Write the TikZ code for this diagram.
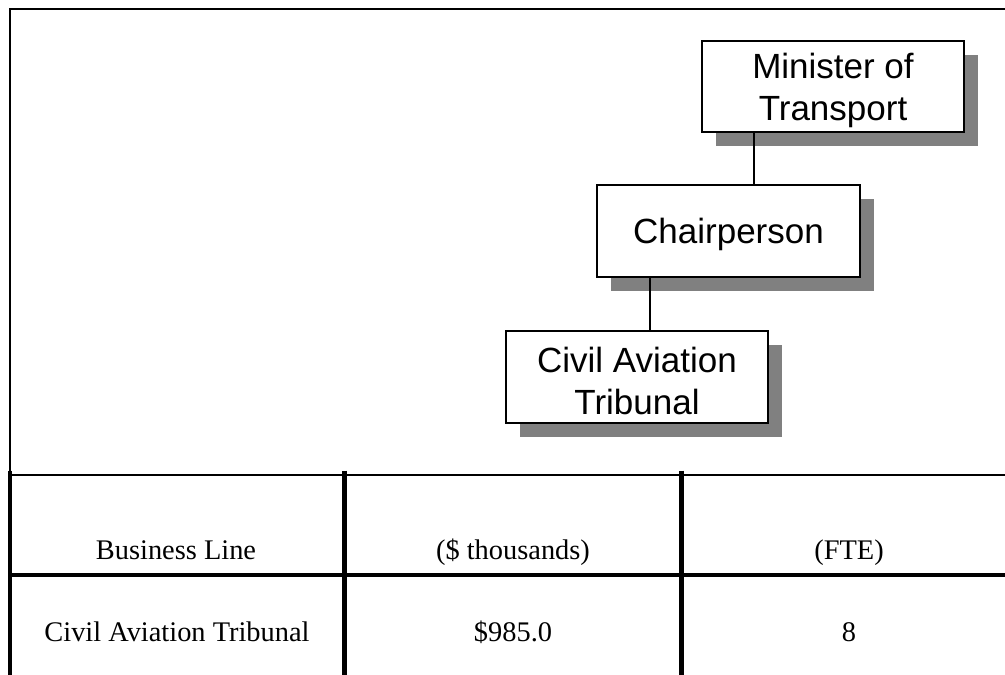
\documentclass[tikz,border=0pt]{standalone}
\usepackage{fontspec}
\setmainfont{Liberation Serif}
\newfontfamily\boxfont{Liberation Sans}
\usetikzlibrary{shadows}
\newcommand{\bxstrut}{\rule{0pt}{33pt}}
\tikzset{
  orgbox/.style={draw=black, line width=1.6pt, fill=white, inner sep=0pt,
    align=center, font=\boxfont\fontsize{35}{42}\selectfont,
    general shadow={fill=black!50, shadow xshift=13.5pt, shadow yshift=-13.5pt}},
  link/.style={line width=1.4pt},
  frameline/.style={line width=2pt},
  thinrule/.style={line width=2pt},
  thickrule/.style={line width=4.2pt},
  cell/.style={anchor=base, inner sep=0pt, font=\fontsize{28.4}{34}\selectfont}
}
\begin{document}
\begin{tikzpicture}[x=1pt,y=-1pt]
\useasboundingbox (0,0) rectangle (1005,675);
% outer frame
\coordinate (fTL) at (10,9);
\coordinate (fTR) at (1010,9);
\coordinate (fBL) at (10,472);
\draw[frameline] (fTR) -- (fTL) -- (fBL);
% org boxes
\node[orgbox, minimum width=262pt, minimum height=91pt] (min) at (833,86.5) {\bxstrut Minister of\\Transport};
\node[orgbox, minimum width=263pt, minimum height=92pt] (chair) at (728.5,231) {\bxstrut Chairperson};
\node[orgbox, minimum width=262pt, minimum height=92pt] (cat) at (637,377) {\bxstrut Civil Aviation\\Tribunal};
\draw[link] (min.south -| 754,0) -- (chair.north -| 754,0);
\draw[link] (chair.south -| 650,0) -- (cat.north -| 650,0);
% table rules
\coordinate (r1L) at (10,474.5);
\coordinate (r1R) at (1010,474.5);
\coordinate (r2L) at (10,575);
\coordinate (r2R) at (1010,575);
\draw[thinrule] (r1L) -- (r1R);
\draw[thickrule] (r2L) -- (r2R);
\coordinate (v1t) at (10.3,470.5);  \coordinate (v1b) at (10.3,680);
\coordinate (v2t) at (344.5,470.5); \coordinate (v2b) at (344.5,680);
\coordinate (v3t) at (681.5,470.5); \coordinate (v3b) at (681.5,680);
\draw[thickrule] (v1t) -- (v1b);
\draw[thickrule] (v2t) -- (v2b);
\draw[thickrule] (v3t) -- (v3b);
% table text
\node[cell] (h1) at (176,559) {Business Line};
\node[cell] (h2) at (513,559) {(\$ thousands)};
\node[cell] (h3) at (849,559) {(FTE)};
\node[cell] (d1) at (177,641.5) {Civil Aviation Tribunal};
\node[cell] (d2) at (513,641.5) {\$985.0};
\node[cell] (d3) at (849,641.5) {8};
\end{tikzpicture}
\end{document}
